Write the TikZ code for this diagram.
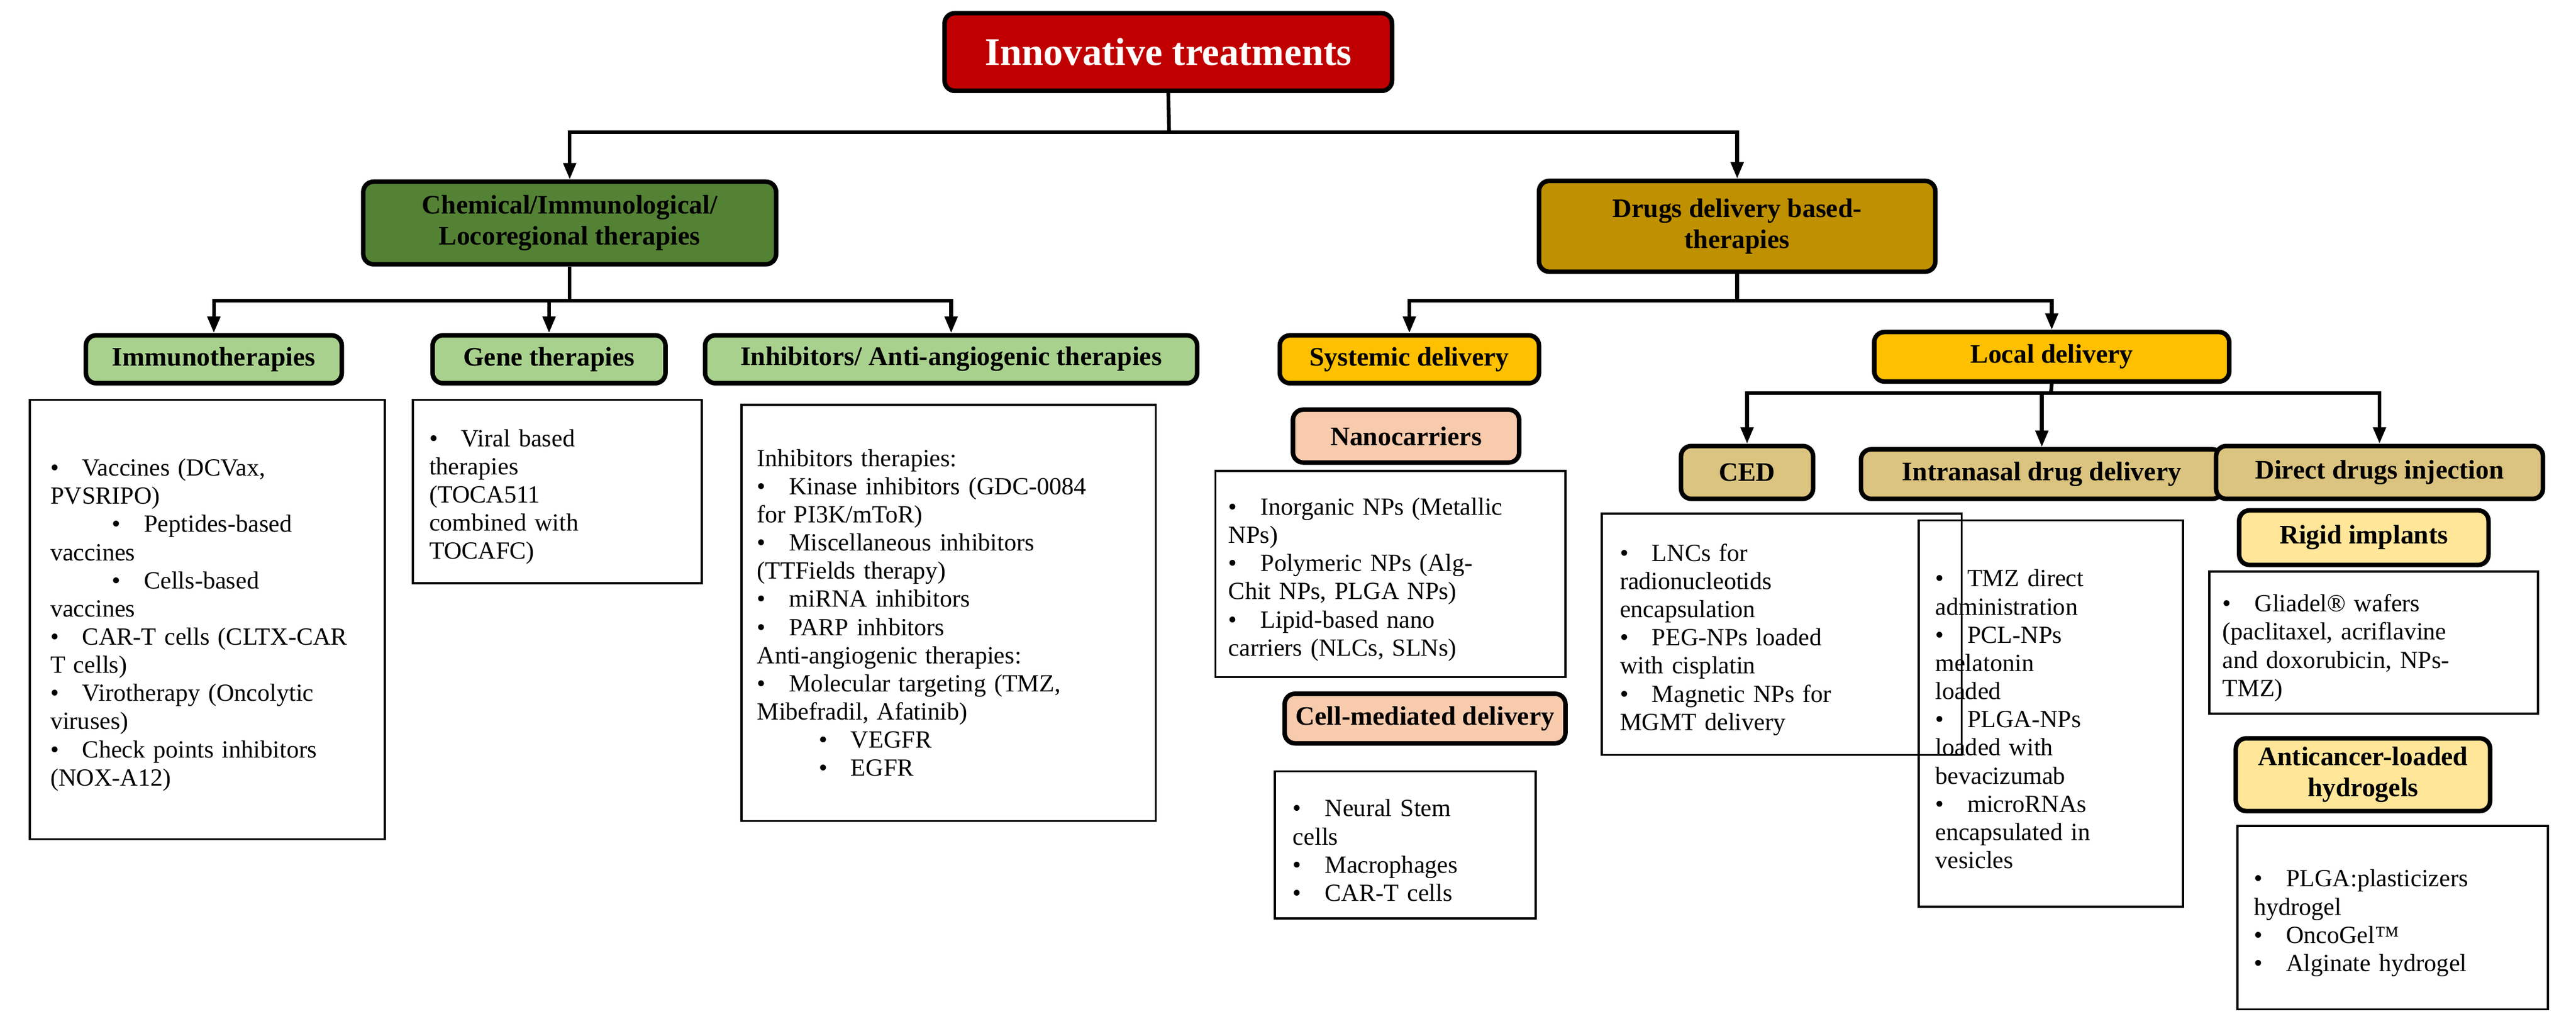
\documentclass[tikz,border=0pt]{standalone}
\usepackage{fontspec}
\setmainfont{Liberation Serif}
\usetikzlibrary{arrows.meta}
\definecolor{c_red}{HTML}{C00000}
\definecolor{c_dgreen}{HTML}{548235}
\definecolor{c_lgreen}{HTML}{A9D18E}
\definecolor{c_gold}{HTML}{BF9000}
\definecolor{c_yellow}{HTML}{FFC000}
\definecolor{c_peach}{HTML}{F8CBAD}
\definecolor{c_khaki}{HTML}{DBC47F}
\definecolor{c_lyellow}{HTML}{FFE699}
\newcommand{\px}{0.2824mm}
% bullet items with hanging indent
\newcommand{\itm}[1]{\par\hangindent=1.3em\hangafter=1\noindent\makebox[1.3em][l]{\textbullet}#1}
\newcommand{\subitm}[1]{\par\hangindent=3.8em\hangafter=1\noindent\hspace*{2.5em}\makebox[1.3em][l]{\textbullet}#1}
\tikzset{
  hd/.style = {draw, line width=2.2pt, rounded corners=5pt, align=center, inner sep=1pt,
               font=\fontsize{13}{15}\selectfont\bfseries},
  lst/.style = {draw, line width=1pt, align=left, inner sep=0pt,
                font=\fontsize{12}{13.7}\selectfont},
  sz/.style 2 args = {minimum width=#1*\px, minimum height=#2*\px},
  conn/.style = {line width=1.8pt},
  arr/.style = {line width=1.8pt, -{Triangle[width=6pt,length=8pt]}},
}
\begin{document}
\begin{tikzpicture}[x=\px, y=-\px]
\useasboundingbox (0,0) rectangle (1560,627);

% top level
\node[hd, fill=c_red, text=white, font=\fontsize{19}{22}\selectfont\bfseries, sz={271}{47}] (title) at (707.5,31.5) {Innovative treatments};
\node[hd, fill=c_dgreen, sz={250}{50}] (chem) at (345,135) {Chemical/Immunological/\\Locoregional therapies};
\node[hd, fill=c_gold, sz={240}{55}] (drug) at (1052,137) {Drugs delivery based-\\therapies};

% second level
\node[hd, fill=c_lgreen, sz={155}{29}] (imm) at (129.5,217.5) {Immunotherapies};
\node[hd, fill=c_lgreen, sz={141}{29}] (gene) at (332.5,217.5) {Gene therapies};
\node[hd, fill=c_lgreen, sz={298}{29}] (inh) at (576,217.5) {Inhibitors/ Anti-angiogenic therapies};
\node[hd, fill=c_yellow, sz={157}{29}] (sys) at (853.5,217.5) {Systemic delivery};
\node[hd, fill=c_yellow, sz={215}{30}] (loc) at (1242.5,216) {Local delivery};

% third level
\node[hd, fill=c_peach, sz={137}{32}] (nano) at (851.5,264) {Nanocarriers};
\node[hd, fill=c_peach, sz={170}{30}] (cell) at (863,435) {Cell-mediated delivery};
\node[hd, fill=c_khaki, sz={80}{32}] (ced) at (1058,286) {CED};
\node[hd, fill=c_khaki, sz={219}{30}] (intra) at (1236.5,287) {Intranasal drug delivery};
\node[hd, fill=c_khaki, sz={198}{32}] (dir) at (1441,286) {Direct drugs injection};
\node[hd, fill=c_lyellow, sz={151}{33}] (rigid) at (1431.5,325.5) {Rigid implants};
\node[hd, fill=c_lyellow, sz={154}{44}] (anti) at (1431,469) {Anticancer-loaded\\hydrogels};

% lists
\node[lst, sz={215}{266}, text width=190*\px] (imml) at (125.5,375) {%
\itm{Vaccines (DCVax,\\PVSRIPO)}
\subitm{Peptides-based\\vaccines}
\subitm{Cells-based\\vaccines}
\itm{CAR-T cells (CLTX-CAR\\T cells)}
\itm{Virotherapy (Oncolytic\\viruses)}
\itm{Check points inhibitors\\(NOX-A12)}};
\node[lst, sz={175}{111}, text width=155*\px] (genel) at (337.5,297.5) {%
\itm{Viral based\\therapies\\(TOCA511\\combined with\\TOCAFC)}};
\node[lst, sz={251}{252}, text width=232*\px] (inhl) at (574.5,371) {%
\noindent Inhibitors therapies:
\itm{Kinase inhibitors (GDC-0084\\for PI3K/mToR)}
\itm{Miscellaneous inhibitors\\(TTFields therapy)}
\itm{miRNA inhibitors}
\itm{PARP inhbitors}
\par\noindent Anti-angiogenic therapies:
\itm{Molecular targeting (TMZ,\\Mibefradil, Afatinib)}
\subitm{VEGFR}
\subitm{EGFR}};
\node[lst, sz={212}{125}, text width=196*\px] (nanol) at (842,347.5) {%
\itm{Inorganic NPs (Metallic\\NPs)}
\itm{Polymeric NPs (Alg-\\Chit NPs, PLGA NPs)}
\itm{Lipid-based nano\\carriers (NLCs, SLNs)}};
\node[lst, sz={158}{89}, text width=136*\px] (celll) at (851,511.5) {%
\itm{Neural Stem\\cells}
\itm{Macrophages}
\itm{CAR-T cells}};
\node[lst, sz={218}{146}, text width=196*\px] (cedl) at (1079,384) {%
\itm{LNCs for\\radionucleotids\\encapsulation}
\itm{PEG-NPs loaded\\with cisplatin}
\itm{Magnetic NPs for\\MGMT delivery}};
\node[lst, sz={160}{234}, text width=140*\px] (intral) at (1242,432) {%
\itm{TMZ direct\\administration}
\itm{PCL-NPs\\melatonin\\loaded}
\itm{PLGA-NPs\\loaded with\\bevacizumab}
\itm{microRNAs\\encapsulated in\\vesicles}};
\node[lst, sz={199}{86}, text width=183*\px] (glil) at (1437.5,389) {%
\itm{Gliadel® wafers\\(paclitaxel, acriflavine\\and doxorubicin, NPs-\\TMZ)}};
\node[lst, sz={188}{111}, text width=168*\px] (hydl) at (1449,555.5) {%
\itm{PLGA:plasticizers\\hydrogel}
\itm{OncoGel™}
\itm{Alginate hydrogel}};

% connectors
\coordinate (j1) at (708,80);
\coordinate (j2) at (345,182);
\coordinate (j3) at (1052,182);
\coordinate (j4) at (1242,238);
\draw[conn] (title.south) -- (j1);
\draw[arr] (j1) -| (chem.north);
\draw[arr] (j1) -| (drug.north);
\draw[conn] (chem.south) -- (j2);
\draw[arr] (j2) -| (imm.north);
\draw[arr] (j2) -| (gene.north);
\draw[arr] (j2) -| (inh.north);
\draw[conn] (drug.south) -- (j3);
\draw[arr] (j3) -| (sys.north);
\draw[arr] (j3) -| (loc.north);
\draw[conn] (loc.south) -- (j4);
\draw[arr] (j4) -| (ced.north);
\draw[arr] (j4) -| (intra.north);
\draw[arr] (j4) -| (dir.north);
\end{tikzpicture}
\end{document}
